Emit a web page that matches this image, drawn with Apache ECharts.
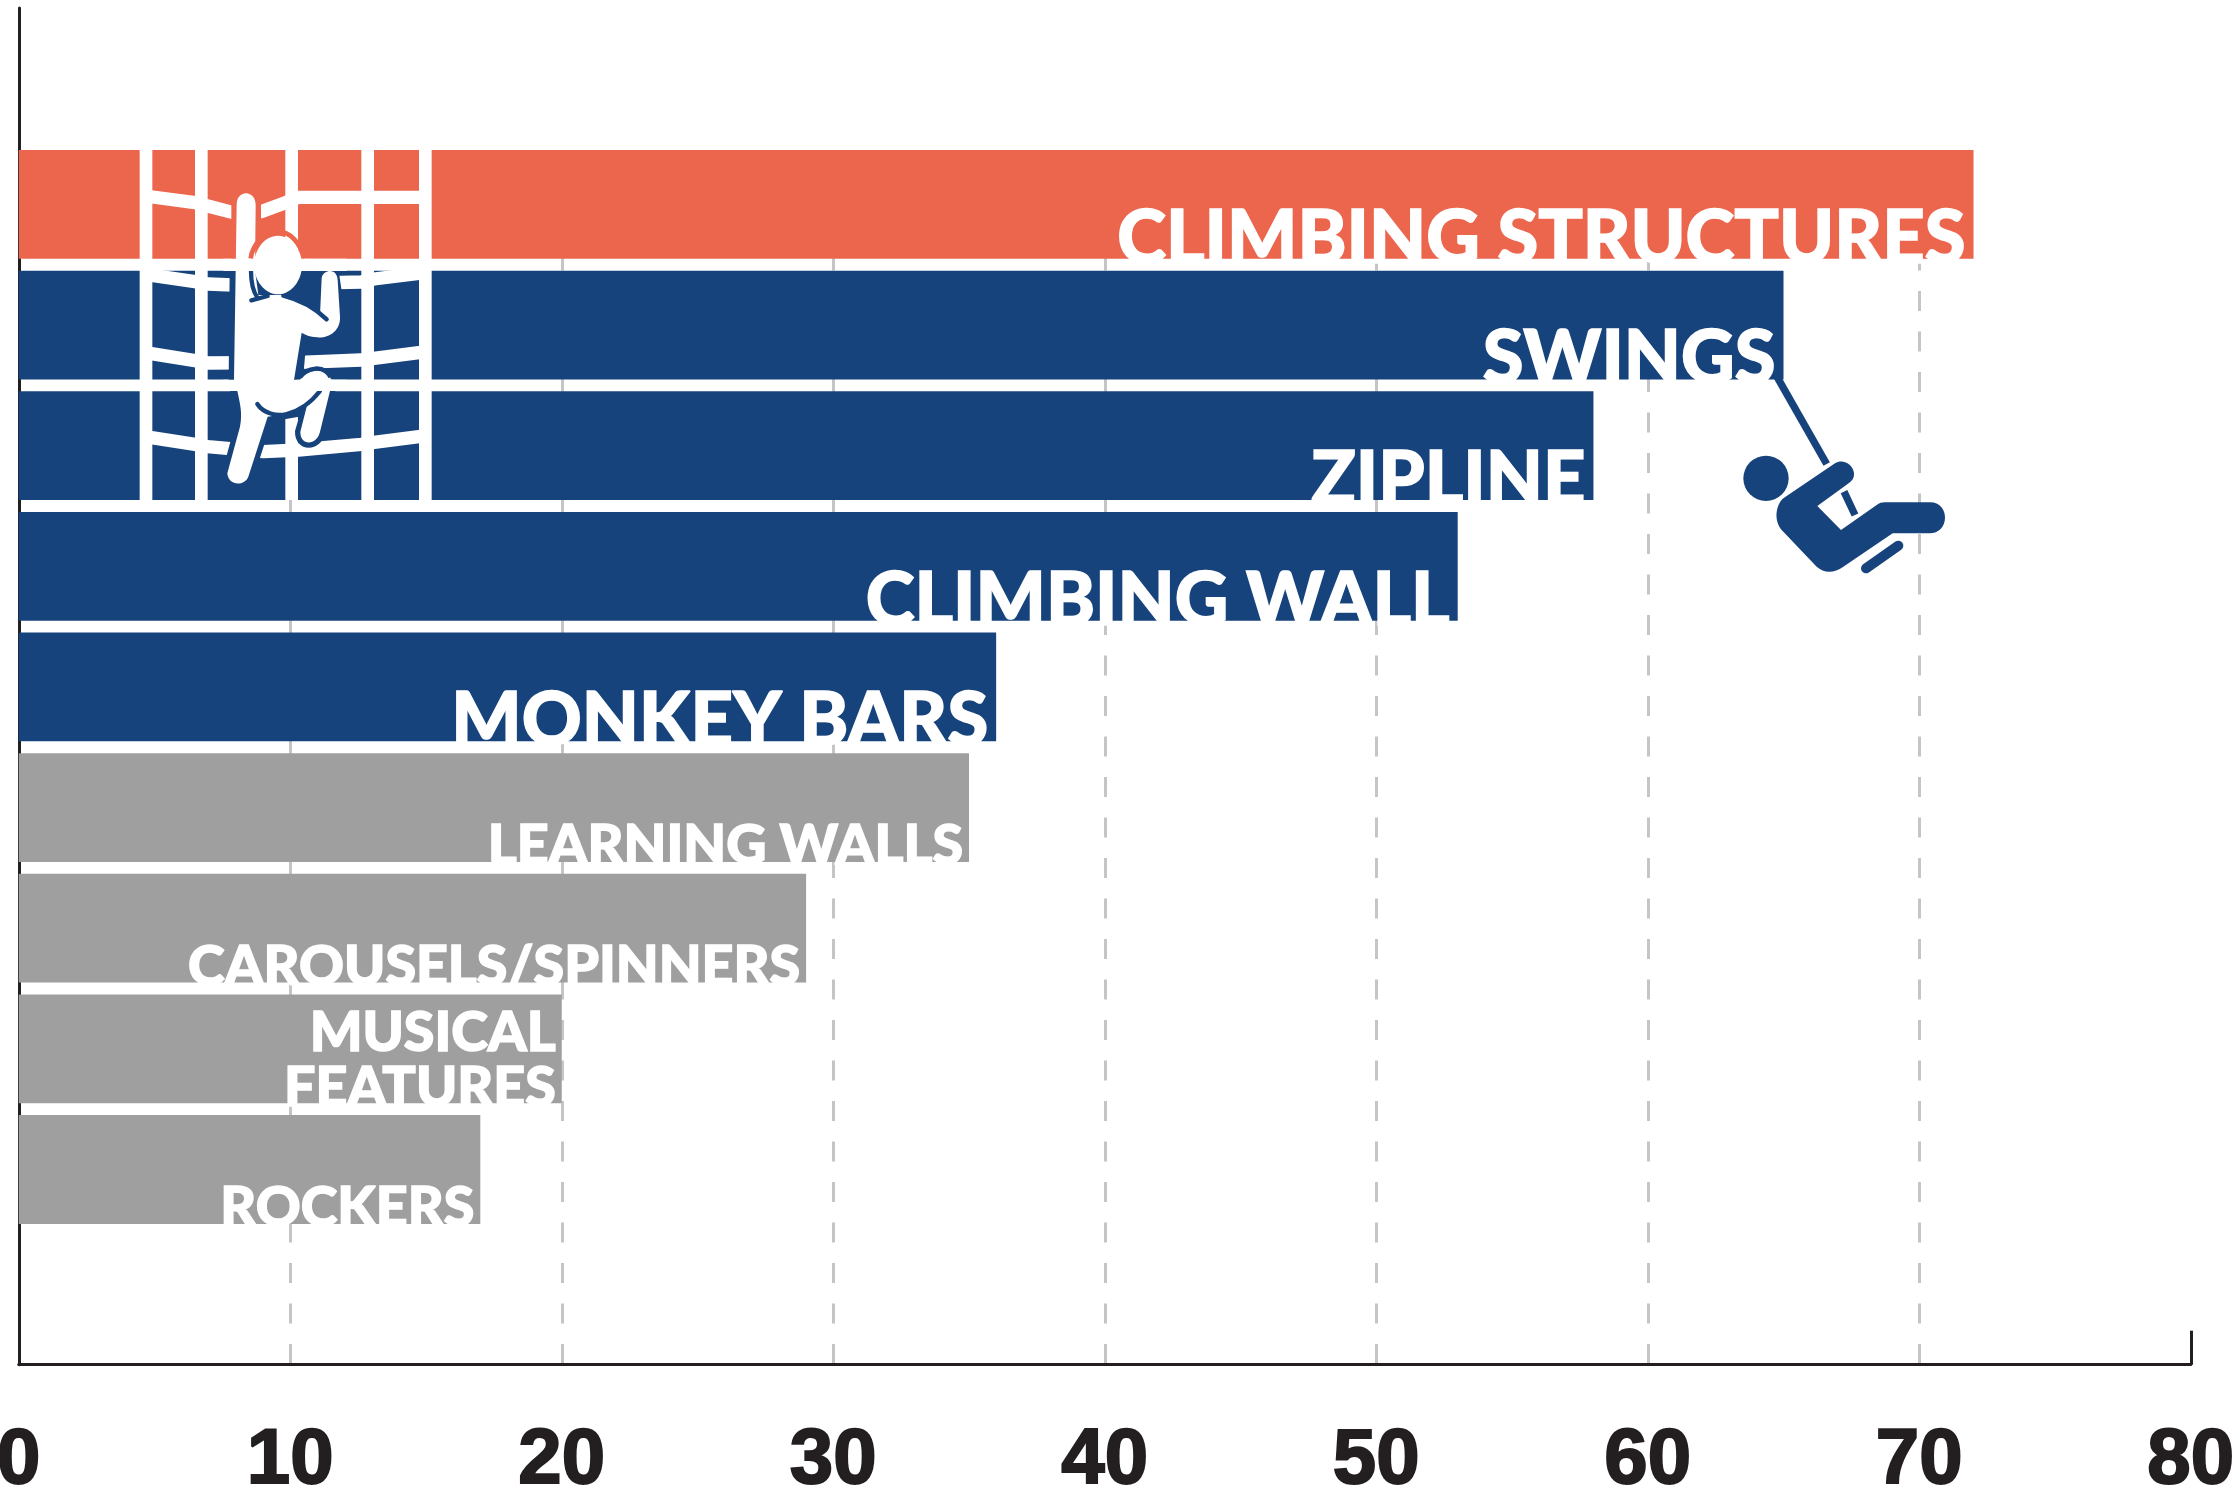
<!DOCTYPE html>
<html><head><meta charset="utf-8">
<style>html,body{margin:0;padding:0;background:#fff}#c{width:2240px;height:1488px}</style>
<script src="https://cdn.jsdelivr.net/npm/echarts@6/dist/echarts.min.js"></script>
</head><body><div id="c"></div>
<script>
const categories = ['CLIMBING STRUCTURES','SWINGS','ZIPLINE','CLIMBING WALL','MONKEY BARS','LEARNING WALLS','CAROUSELS/SPINNERS','MUSICAL\nFEATURES','ROCKERS'];
const values = [72,65,58,53,36,35,29,20,17];
const tickValues = [0,10,20,30,40,50,60,70,80];

const ORANGE='#EC654D', BLUE='#17437D', GRAY='#9F9F9F', INK='#231F20', RULE='#C4C5C7';
const colorOf = i => i===0 ? ORANGE : i<5 ? BLUE : GRAY;
const LEFT=18.75, WIDTH=2172, BASE=1364.7;
const FONT='Lato, "Noto Sans", sans-serif';

function p(d,style){return {type:'path',shape:{pathData:d},style:style};}
const stroke=(c,w,cap)=>({fill:null,stroke:c,lineWidth:w,lineCap:cap||'round',lineJoin:'round'});
const W='#fff';
const bodyD='M410 225C410 200 425 190 438 190C455 190 467 205 467 225L465 420L475 495L548 495C590 505 625 525 660 555L665 445C667 430 680 423 690 423C705 423 712 435 713 450L720 560C722 600 690 625 650 622C630 620 615 615 605 608L582 750L590 783L660 783C625 830 575 858 535 855L503 860L445 1040C435 1068 385 1070 382 1030L420 890C428 850 420 820 412 783L402 750Z';
const legD='M600 750C615 722 682 705 692 745L690 783L660 905C650 948 600 948 601 905L620 830L590 783Z';
const headD='M534 317C575 317 606 360 606 405C606 450 575 493 534 493C493 493 462 450 462 405C462 360 493 317 534 317Z';
function climberChildren(){
  return [
    p('M138 60V1110M304 60V1110M575 60V1110M803 60V1110M976 60V1110',stroke(W,38,'butt')),
    p('M135 198L285 218L323 228L400 248L483 245L556 218L595 202L980 202',stroke(W,40,'butt')),
    p('M135 433L285 455L323 462L400 465L600 460L784 456L822 447L980 427',stroke(W,40,'butt')),
    p('M135 668L285 692L323 699L600 697L784 690L822 685L980 665',stroke(W,40,'butt')),
    p('M135 920L285 943L323 950L490 965L595 960L784 943L822 937L980 917',stroke(W,40,'butt')),
    p('M410 225C410 200 425 190 438 190C455 190 467 205 467 225L467 386L410 386Z',{fill:ORANGE,stroke:ORANGE,lineWidth:32,lineJoin:'round'}),
    p('M405 423L700 423L720 560L650 622L605 608L590 783L690 783L660 905C650 948 600 948 601 905L620 840L503 860L445 1040C435 1068 385 1070 382 1030L420 890L402 750Z',{fill:BLUE,stroke:BLUE,lineWidth:32,lineJoin:'round'}),
    {type:'rect',shape:{x:370,y:386,width:370,height:37},style:{fill:W}},
    {type:'rect',shape:{x:370,y:749,width:370,height:34},style:{fill:W}},
    p(bodyD,{fill:W}),
    p(legD,{fill:W}),
    p('M452 386C458 340 495 305 534 305C573 305 600 340 612 386',stroke(ORANGE,14,'butt')),
    p('M453 423C453 460 462 488 472 503',stroke(BLUE,13)),
    p('M454 511L503 498',stroke(BLUE,13)),
    p('M610 423C604 455 598 472 586 492',stroke(BLUE,13)),
    p('M550 497C590 507 640 530 680 568',stroke(BLUE,13)),
    p('M600 742C620 712 672 702 692 742',stroke(BLUE,13,'butt')),
    p('M472 822C490 850 530 860 560 852C600 842 635 815 660 783',stroke(BLUE,13)),
    p(headD,{fill:W}),
    {type:'rect',shape:{x:440,y:386,width:180,height:37},style:{fill:W}},
    {type:'rect',shape:{x:590,y:749,width:110,height:34},style:{fill:W}}
  ];
}
function swingChildren(){
  return [
    p('M232 112L380 372',stroke(BLUE,22,'butt')),
    p('M432 455L465 525',stroke(BLUE,22,'butt')),
    {type:'circle',shape:{cx:198,cy:415,r:68},style:{fill:BLUE}},
    p('M250 475L405 370C430 355 460 375 462 400C463 412 458 422 448 428L352 498L423 570L530 495C538 489 545 487 555 487L690 487C720 487 735 510 735 533C735 560 715 580 690 580L578 580L430 680C400 702 370 698 350 680L245 570C220 540 228 495 250 475Z',{fill:BLUE}),
    p('M498 685L595 617',stroke(BLUE,30,'round'))
  ];
}

const chart=echarts.init(document.getElementById('c'),null,{renderer:'canvas'});
const hidden={show:false};
chart.setOption({
  animation:false,
  backgroundColor:'#fff',
  grid:[
    {left:LEFT,width:WIDTH,top:8,height:BASE-8,outerBoundsMode:'none'},
    {left:LEFT,width:WIDTH,top:150,height:BASE-150,outerBoundsMode:'none'},
    {left:LEFT,width:WIDTH,top:144.1,height:1085.7,outerBoundsMode:'none'}
  ],
  xAxis:[
    {gridIndex:0,type:'value',min:0,max:80,interval:10,
     axisLine:{show:true,lineStyle:{color:INK,width:3}},
     axisTick:{show:true,inside:true,length:34,customValues:[80],lineStyle:{color:INK,width:3}},
     splitLine:hidden,
     axisLabel:{show:true,margin:58,color:INK,fontFamily:'"Liberation Sans"',fontWeight:'bold',fontSize:78,textBorderColor:INK,textBorderWidth:2,
       customValues:tickValues,formatter:v=>String(v)}},
    {gridIndex:1,type:'value',min:0,max:80,interval:10,
     axisLine:hidden,axisTick:hidden,axisLabel:hidden,
     splitLine:{show:true,showMinLine:false,showMaxLine:false,lineStyle:{color:RULE,width:3,type:[20,20.5],dashOffset:21}}},
    {gridIndex:2,type:'value',min:0,max:80,interval:10,show:false,splitLine:hidden}
  ],
  yAxis:[
    {gridIndex:0,type:'value',min:0,max:1,axisLine:{show:true,lineStyle:{color:INK,width:3}},axisTick:hidden,axisLabel:hidden,splitLine:hidden},
    {gridIndex:1,type:'value',min:0,max:1,show:false,splitLine:hidden},
    {gridIndex:2,type:'category',inverse:true,data:categories,show:false}
  ],
  series:[
    {type:'bar',xAxisIndex:2,yAxisIndex:2,barWidth:108.8,z:2,
     data:values.map((v,i)=>({value:v,itemStyle:{color:colorOf(i)},
       label:{show:true,position:'insideBottomRight',distance:0,offset:[i<5?-8:-6,i<5?17:12],
         color:'#fff',textBorderColor:'#fff',textBorderWidth:1.5,fontFamily:FONT,fontWeight:900,fontSize:i<5?74:55.5,lineHeight:i<5?74:55,align:'right',
         formatter:categories[i]}}))},
    {type:'custom',coordinateSystem:'none',z:6,silent:true,data:[0],
     renderItem:()=>({type:'group',x:100,y:130,scaleX:1/3,scaleY:1/3,children:climberChildren()})},
    {type:'custom',coordinateSystem:'none',z:6,silent:true,data:[0],
     renderItem:()=>({type:'group',x:1700,y:340,scaleX:1/3,scaleY:1/3,children:swingChildren()})}
  ]
});
</script></body></html>
